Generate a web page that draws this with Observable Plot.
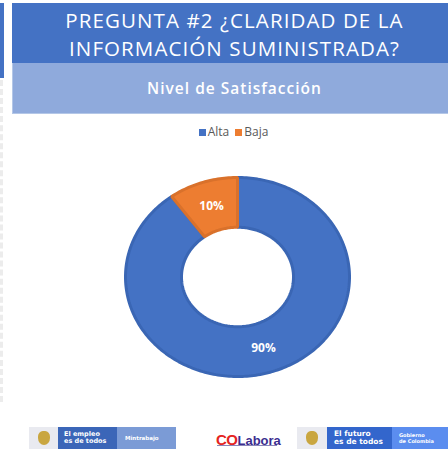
<!DOCTYPE html>
<html>
<head>
<meta charset="utf-8">
<script src="https://cdn.jsdelivr.net/npm/d3@7"></script>
<script src="https://cdn.jsdelivr.net/npm/@observablehq/plot@0.6"></script>
<style>
  html, body { margin: 0; padding: 0; background: #fff; }
  body { width: 448px; height: 452px; position: relative; overflow: hidden; font-family: "Open Sans", sans-serif; }
  .abs { position: absolute; }
  #title { left: 12px; top: 3px; width: 436px; height: 60px; background: #4472C4; color: #fff;
           font-size: 20.5px; line-height: 28px; text-align: center; padding: 3px 0 0 9px; box-sizing: border-box; letter-spacing: 1.1px; }
  #sub { left: 12px; top: 63px; width: 436px; height: 51px; background: #8FAADC; color: #fff;
         font-size: 15.5px; font-weight: 600; line-height: 51px; text-align: center; box-sizing: border-box; padding-left: 8px;
         border-bottom: 1px solid #b4c7e7; border-left: 1px solid #b4c7e7; letter-spacing: 1px; }
  #strip { left: 0; top: 3px; width: 4px; height: 75px; background: #4472C4; }
  #dash { left: 0; top: 80px; height: 322px; border-left: 3px dashed #ececec; }
  #legend { left: 19px; top: 123px; width: 429px; text-align: center; font-size: 12px; color: #595959; font-family: "Open Sans", sans-serif; }
  #legend span.sw { display: inline-block; width: 7px; height: 7px; margin-right: 2px; vertical-align: 0px; }
  #legend span.it { margin: 0 3px; }
  #chart { left: 0; top: 145px; }
  .logo { position: absolute; top: 427px; height: 22px; color: #fff; font-family: "DejaVu Sans", sans-serif; font-weight: bold; box-sizing: border-box; }
  .crest { background: #e9eaf0; }
  .crest::after { content: ""; position: absolute; left: 50%; top: 4px; width: 12px; height: 14px; margin-left: -6px;
                  border-radius: 40% 40% 50% 50%; background: #c9a640; }
</style>
</head>
<body>
<div class="abs" id="strip"></div>
<div class="abs" id="dash"></div>
<div class="abs" id="title">PREGUNTA #2 ¿CLARIDAD DE LA<br>INFORMACIÓN SUMINISTRADA?</div>
<div class="abs" id="sub">Nivel de Satisfacción</div>
<div class="abs" id="legend"></div>
<div class="abs" id="chart"></div>

<div class="logo crest" style="left:29px;width:29px;"></div>
<div class="logo" style="left:58px;width:59px;background:#3b66b8;font-size:6.5px;line-height:7px;padding:4px 0 0 6px;">El empleo<br>es de todos</div>
<div class="logo" style="left:117px;width:59px;background:#7b9bd6;font-size:5.5px;line-height:22px;padding-left:8px;">Mintrabajo</div>

<div class="logo" style="left:216px;top:430px;height:18px;width:66px;">
  <span style="color:#e52421;font-size:15px;font-family:'Liberation Sans',sans-serif;font-weight:bold;letter-spacing:-0.5px;">CO</span><span style="color:#3b2d8f;font-size:13px;font-family:'Liberation Sans',sans-serif;font-weight:bold;">Labora</span>
  <div style="position:absolute;left:1px;top:15px;width:60px;height:1px;background:#8a86b8;"></div>
</div>

<div class="logo crest" style="left:297px;width:30px;"></div>
<div class="logo" style="left:327px;width:65px;background:#3366cc;font-size:7.5px;line-height:8px;padding:3px 0 0 7px;">El futuro<br>es de todos</div>
<div class="logo" style="left:392px;width:56px;background:#5b8def;font-size:5px;line-height:6px;padding:5px 0 0 7px;">Gobierno<br>de Colombia</div>

<script>
// ---- data ----
const categories = ["Alta", "Baja"];
const values = [90, 10];
const labels = ["90%", "10%"];
const colors = ["#4472C4", "#ED7D31"];
const borders = ["#3a66b4", "#d9712b"];

// legend
const legend = document.getElementById("legend");
legend.innerHTML = categories.map((c, i) =>
  `<span class="it"><span class="sw" style="background:${colors[i]}"></span>${c}</span>`).join("");

// ---- donut geometry from the data ----
const innerR = 0.5, outerR = 1;
const arcs = d3.pie().sort(null).startAngle(0).endAngle(2 * Math.PI)(values);
const polys = arcs.map((a, i) => {
  const pts = [];
  const n = Math.max(8, Math.ceil((a.endAngle - a.startAngle) / 0.02));
  for (let k = 0; k <= n; k++) {
    const t = a.startAngle + (a.endAngle - a.startAngle) * k / n;
    pts.push({cat: categories[i], x: outerR * Math.sin(t), y: outerR * Math.cos(t)});
  }
  for (let k = n; k >= 0; k--) {
    const t = a.startAngle + (a.endAngle - a.startAngle) * k / n;
    pts.push({cat: categories[i], x: innerR * Math.sin(t), y: innerR * Math.cos(t)});
  }
  return pts;
});
const labelPts = arcs.map((a, i) => {
  const m = (a.startAngle + a.endAngle) / 2, r = (innerR + outerR) / 2;
  return {label: labels[i], x: r * Math.sin(m), y: r * Math.cos(m)};
});

const W = 448, H = 265;
const chart = Plot.plot({
  width: W, height: H,
  marginLeft: 125, marginRight: 99, marginTop: 32, marginBottom: 34,
  x: {domain: [-1, 1], axis: null},
  y: {domain: [-1, 1], axis: null},
  style: {background: "transparent", fontFamily: "Open Sans, sans-serif"},
  marks: [
    ...polys.map((p, i) => Plot.line(p, {x: "x", y: "y", curve: "linear-closed",
      fill: colors[i], stroke: borders[i], strokeWidth: 3, strokeLinejoin: "miter"})),
    Plot.text(labelPts, {x: "x", y: "y", text: "label", fill: "white", fontSize: 12, fontWeight: "bold"})
  ]
});
document.getElementById("chart").appendChild(chart);
</script>
</body>
</html>
